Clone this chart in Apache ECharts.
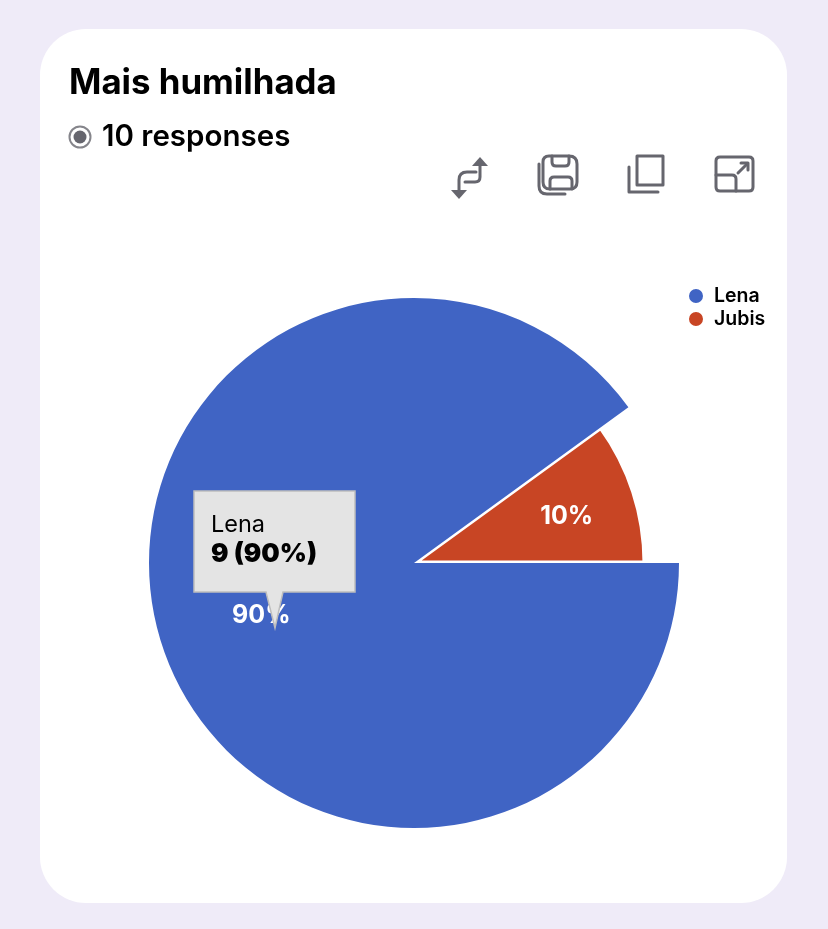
<!DOCTYPE html>
<html><head><meta charset="utf-8">
<style>html,body{margin:0;padding:0;background:#EFEBF8}#c{width:828px;height:929px}</style>
<script src="https://cdn.jsdelivr.net/npm/echarts@6/dist/echarts.min.js"></script>
</head><body><div id="c"></div>
<script>
const titleText = 'Mais humilhada';
const responseText = '10 responses';
const categories = ['Lena', 'Jubis'];
const values = [9, 1];
const sliceColors = ['#4064C4', '#C84524'];
const tipIndex = 0;

const FONT = 'Inter, "Noto Sans", sans-serif';
const ICON = '#66666E';
const total = values.reduce((a, b) => a + b, 0);
const tipShare = Math.round(values[tipIndex] / total * 100);
const chart = echarts.init(document.getElementById('c'), null, {renderer: 'canvas'});

let shapeCount = 0;
function stroke(d) {
  const name = 'iconPath' + (shapeCount++);
  echarts.graphic.registerShape(name, echarts.graphic.extendPath(d, {}));
  return {type: name, z: 10,
    style: {fill: 'none', stroke: ICON, lineWidth: 3, lineCap: 'round', lineJoin: 'round'}};
}
function solid(points) {
  return {type: 'polygon', shape: {points}, z: 10, style: {fill: ICON}};
}

chart.setOption({
  animation: false,
  backgroundColor: '#EFEBF8',
  title: [
    {text: titleText, left: 69, top: 66, padding: 0,
      textStyle: {fontFamily: FONT, fontSize: 34.8, fontWeight: 700, color: '#000'}},
    {text: responseText, left: 102, top: 122, padding: 0,
      textStyle: {fontFamily: FONT, fontSize: 29.5, fontWeight: 600, color: '#000'}}
  ],
  legend: {
    orient: 'vertical', left: 687, top: 286, padding: 0, icon: 'circle',
    itemWidth: 16, itemHeight: 16, itemGap: 3, selectedMode: false,
    data: categories,
    textStyle: {fontFamily: FONT, fontSize: 19.5, lineHeight: 16, height: 16, fontWeight: 600, color: '#000', padding: [0, 0, 0, 5]}
  },
  graphic: [
    {type: 'rect', z: -1, shape: {x: 40, y: 29, width: 747, height: 874, r: 46}, style: {fill: '#fff'}},
    {type: 'circle', z: 10, shape: {cx: 80, cy: 137, r: 10.5}, style: {fill: 'none', stroke: '#85858B', lineWidth: 2}},
    {type: 'circle', z: 10, shape: {cx: 80, cy: 137, r: 6.5}, style: {fill: ICON}},
    stroke('M480 164V177Q480 182 475 182H465'),
    stroke('M476 172H467Q459 172 459 180V191'),
    solid([[480, 157], [472, 166], [488, 166]]),
    solid([[459, 199], [451, 190], [467, 190]]),
    stroke('M549 156H569Q577 156 577 164V182Q577 189 570 189H550Q543 189 543 182V162Q543 156 549 156Z'),
    stroke('M552 156V162Q552 166 556 166H565Q569 166 569 162V156'),
    stroke('M550 189V181Q550 177 554 177H568Q572 177 572 181V189'),
    stroke('M539 164V186Q539 194 547 194H565'),
    stroke('M637 156H663V185H637Z'),
    stroke('M629 167V192H658'),
    stroke('M720 157H749Q753 157 753 161V187Q753 191 749 191H720Q716 191 716 187V161Q716 157 720 157Z'),
    stroke('M716 175H732Q736 175 736 179V191'),
    stroke('M738 173L747 164'),
    stroke('M741 163H748V170'),
    {type: 'polygon', z: 20, shape: {points: [[194, 491], [355, 491], [355, 592], [283, 592], [275, 628], [266, 592], [194, 592]]},
      style: {fill: '#E4E4E4', stroke: '#BDBDBD', lineWidth: 1.5}},
    {type: 'text', z: 21, x: 211, y: 513, style: {text: categories[tipIndex], fontFamily: FONT, fontSize: 23.5, fontWeight: 400, fill: '#000'}},
    {type: 'text', z: 21, x: 211, y: 541, style: {text: values[tipIndex] + ' (' + tipShare + '%)', fontFamily: FONT, fontSize: 26, fontWeight: 900, fill: '#000'}}
  ],
  series: [{
    type: 'pie',
    center: [414, 563],
    radius: [0, 231],
    startAngle: 0,
    clockwise: true,
    silent: true,
    data: categories.map((name, i) => ({name, value: values[i], itemStyle: {color: sliceColors[i]},
      emphasis: {itemStyle: {color: sliceColors[i], borderWidth: 0}}})),
    itemStyle: {borderColor: '#fff', borderWidth: 5},
    label: {position: 'inside', formatter: '{d}%', color: '#fff', fontFamily: FONT, fontSize: 25, fontWeight: 700},
    labelLine: {show: false},
    labelLayout: function (p) {
      const share = values[p.dataIndex] / total;
      const before = values.slice(0, p.dataIndex).reduce((a, b) => a + b, 0) / total;
      const a = (before + share / 2) * 2 * Math.PI;
      return {dx: 42 * Math.cos(a), dy: 42 * Math.sin(a) + 3};
    },
    emphasis: {scale: true, scaleSize: 34, focus: 'none'},
    stateAnimation: {duration: 0}
  }]
});
chart.dispatchAction({type: 'highlight', seriesIndex: 0, dataIndex: tipIndex});
</script></body></html>
